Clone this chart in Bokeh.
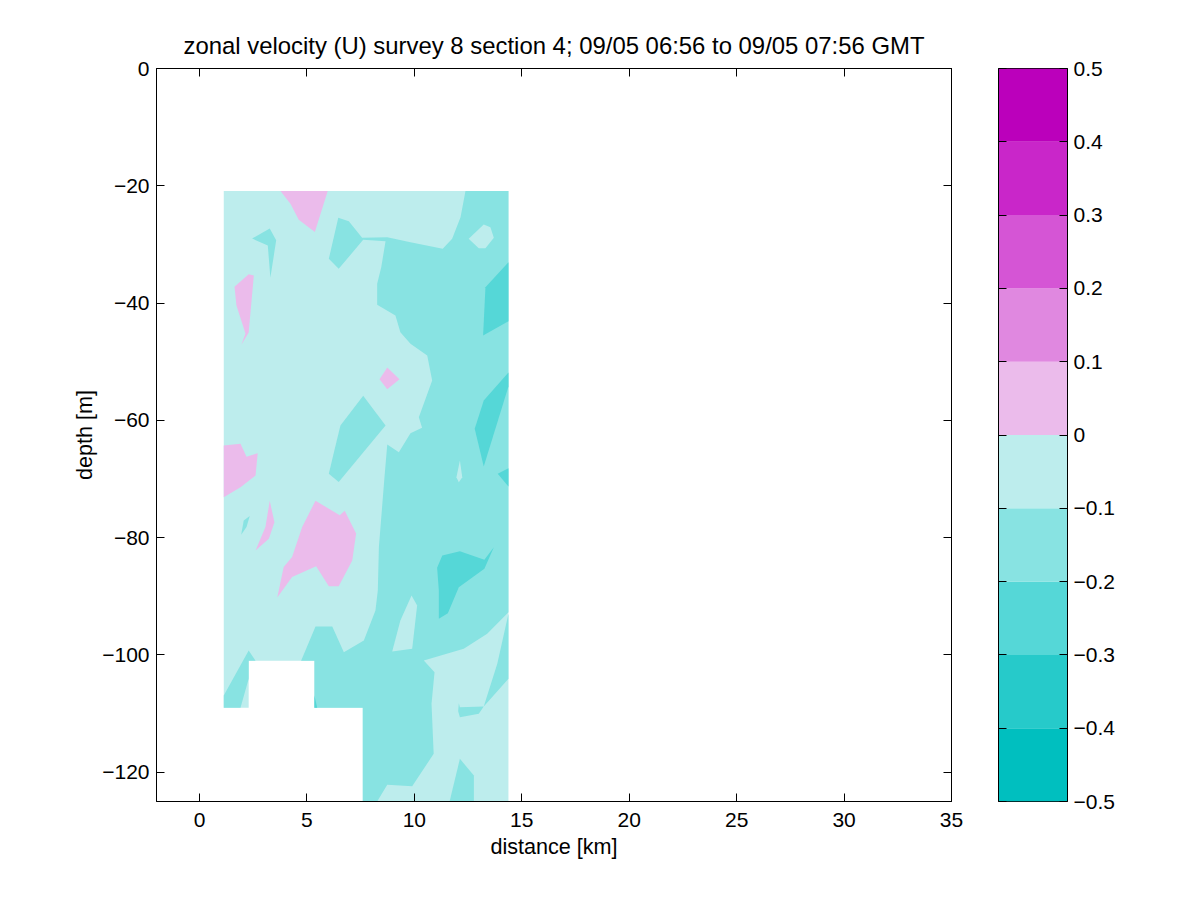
from bokeh.embed import file_html
from bokeh.layouts import row
from bokeh.models import LinearAxis, FixedTicker, Range1d
from bokeh.plotting import figure
from bokeh.resources import INLINE

TITLE = "zonal velocity (U) survey 8 section 4; 09/05 06:56 to 09/05 07:56 GMT"
X_LABEL = "distance [km]"
Y_LABEL = "depth [m]"
X_TICKS = [0, 5, 10, 15, 20, 25, 30, 35]
Y_TICKS = [0, -20, -40, -60, -80, -100, -120]
CB_TICKS = [-0.5, -0.4, -0.3, -0.2, -0.1, 0, 0.1, 0.2, 0.3, 0.4, 0.5]
CB_LABELS = ["\u22120.5", "\u22120.4", "\u22120.3", "\u22120.2", "\u22120.1", "0", "0.1", "0.2", "0.3", "0.4", "0.5"]
LEVEL_COLORS = ["#00BFBF", "#26CACA", "#55D7D7", "#88E3E2", "#BDEDED",
                "#EBBBEB", "#E088E0", "#D555D5", "#C926C9", "#BB00BB"]

# Contour bands, as (distance km, depth m) outlines, one list per band.
BAND_0_TO_NEG01 = [
    [(1.13, -20.9), (14.38, -20.9), (14.38, -125), (7.60, -125), (7.60, -109), (5.35, -109),
     (5.35, -101), (2.29, -101), (2.29, -109), (1.13, -109)],
]
BAND_NEG01_TO_NEG02 = [
    [(12.38, -20.9), (12.15, -25.36), (11.76, -29.04), (11.32, -30.75), (9.82, -29.62), (8.74, -28.77),
     (7.57, -28.87), (6.95, -26.04), (6.46, -25.46), (6.02, -32.45), (6.48, -34.16), (7.62, -29.21),
     (8.66, -29.45), (8.46, -33.88), (8.27, -36.72), (8.27, -40.30), (9.12, -42.12), (9.35, -44.97),
     (9.82, -46.95), (10.60, -48.94), (10.83, -53.21), (10.21, -59.46), (10.36, -61.27), (9.82, -62.19),
     (9.28, -65.43), (8.74, -64.12), (8.61, -69.70), (8.35, -81.63), (8.30, -89.02), (8.19, -92.43),
     (7.65, -97.54), (6.72, -99.54), (6.18, -95.16), (5.40, -95.16), (4.73, -101), (5.35, -101),
     (5.35, -109), (7.60, -109), (7.60, -125), (8.27, -125), (8.74, -122.15), (9.90, -122.39),
     (10.90, -116.87), (10.80, -108.34), (10.94, -102.95), (10.44, -100.95), (12.30, -98.96),
     (13.39, -96.40), (14.38, -92.72), (14.38, -20.9)],
    [(7.62, -55.8), (8.66, -60.9), (6.48, -70.5), (6.02, -69.1), (6.28, -65.1), (6.56, -60.9)],
    [(2.45, -29.0), (3.27, -27.3), (3.57, -29.3), (3.30, -35.7), (3.18, -30.2)],
    [(2.34, -76.3), (2.19, -78.2), (1.94, -79.5), (2.06, -77.1)],
    [(1.13, -106.92), (2.29, -99.25), (2.61, -101), (2.29, -101), (2.29, -104.08), (1.91, -109), (1.13, -109)],
]
HOLES_0_TO_NEG01 = [
    [(12.53, -29.04), (13.23, -26.60), (13.54, -27.06), (13.70, -28.87), (13.31, -30.64), (13.0, -30.64)],
    [(12.12, -66.85), (12.23, -69.70), (12.07, -70.55), (11.96, -69.70)],
    [(9.87, -89.87), (10.13, -91.58), (9.90, -98.96), (8.97, -99.42), (9.35, -94.13)],
]
BAND_NEG01_TO_NEG02_LOWER = [
    [(14.38, -92.99), (13.86, -101.52), (13.23, -108.8), (14.38, -104.08)],
    [(12.07, -108.24), (12.12, -108.92), (13.23, -108.8), (13.0, -110.04), (12.12, -110.62), (12.04, -109.60)],
    [(12.12, -117.72), (12.77, -120.57), (12.77, -125), (11.64, -125)],
]
BAND_NEG02_TO_NEG03 = [
    [(14.38, -33.03), (13.31, -37.29), (13.20, -45.53), (14.38, -43.09)],
    [(14.38, -51.84), (13.23, -56.62), (12.81, -61.44), (13.23, -67.87), (14.38, -54.23)],
    [(13.88, -69.12), (14.38, -68.16), (14.38, -71.28)],
    [(13.70, -81.63), (13.26, -85.32), (12.07, -88.45), (11.56, -92.89), (11.14, -93.84), (11.14, -89.02),
     (11.06, -85.15), (11.30, -83.05), (12.12, -82.32), (13.26, -83.78)],
    [(5.35, -106.92), (5.48, -109), (5.35, -109)],
]
BAND_0_TO_01 = [
    [(3.77, -20.9), (5.97, -20.9), (5.37, -27.9), (4.62, -25.8), (4.24, -23.1)],
    [(1.63, -37.2), (2.29, -35.1), (2.53, -35.3), (2.29, -45.0), (1.95, -47.1), (2.14, -45.2), (1.72, -40.4)],
    [(8.74, -51.0), (9.31, -53.0), (8.74, -54.7), (8.38, -53.0)],
    [(1.13, -64.3), (1.91, -64.0), (2.19, -66.2), (2.71, -65.6), (2.61, -69.4), (1.91, -71.4), (1.13, -73.1)],
    [(3.27, -73.7), (3.49, -77.4), (3.23, -80.2), (2.61, -82.2), (3.07, -78.2)],
    [(5.40, -73.7), (6.53, -76.2), (6.76, -75.4), (7.29, -79.3), (7.11, -83.9), (6.48, -88.3), (6.02, -88.3),
     (5.43, -84.9), (4.31, -86.7), (3.62, -90.2), (3.92, -85.0), (4.31, -83.3), (4.78, -78.2)],
]

FONT = "Liberation Sans"
TICK_SIZE = "21px"
LABEL_SIZE = "21.6px"
TITLE_SIZE = "23.9px"


def add_band(fig, polygons, color):
    fig.patches([[pt[0] for pt in poly] for poly in polygons],
                [[pt[1] for pt in poly] for poly in polygons],
                fill_color=color, line_color=None)


def style_axis(axis, ticks, labels=None):
    axis.ticker = FixedTicker(ticks=ticks)
    axis.major_tick_in = 8
    axis.major_tick_out = 0
    axis.minor_tick_line_color = None
    axis.axis_line_color = "black"
    axis.major_tick_line_color = "black"
    axis.major_label_text_font = FONT
    axis.major_label_text_font_size = TICK_SIZE
    axis.major_label_text_color = "black"
    axis.major_label_orientation = "horizontal"
    if labels is not None:
        axis.major_label_overrides = labels
    else:
        axis.major_label_text_color = None
        axis.major_label_text_font_size = "0px"
        axis.major_label_standoff = 0


p = figure(width=975, height=885, x_range=Range1d(-2, 35), y_range=Range1d(-125, 0),
           output_backend="svg", toolbar_location=None,
           min_border_left=156, min_border_right=24, min_border_top=68, min_border_bottom=84,
           frame_width=795, frame_height=733, title=TITLE)
p.grid.visible = False
p.outline_line_color = "black"
p.background_fill_color = "white"
p.title.text_font = FONT
p.title.text_font_size = TITLE_SIZE
p.title.text_font_style = "normal"
p.title.text_color = "black"
p.title.align = "center"
p.title.standoff = 20

add_band(p, BAND_0_TO_NEG01, LEVEL_COLORS[4])
add_band(p, BAND_NEG01_TO_NEG02, LEVEL_COLORS[3])
add_band(p, HOLES_0_TO_NEG01, LEVEL_COLORS[4])
add_band(p, BAND_NEG01_TO_NEG02_LOWER, LEVEL_COLORS[3])
add_band(p, BAND_NEG02_TO_NEG03, LEVEL_COLORS[2])
add_band(p, BAND_0_TO_01, LEVEL_COLORS[5])

style_axis(p.xaxis[0], X_TICKS, {t: str(t) for t in X_TICKS})
style_axis(p.yaxis[0], Y_TICKS, {t: (str(t).replace("-", "\u2212")) for t in Y_TICKS})
p.xaxis[0].axis_label = X_LABEL
p.yaxis[0].axis_label = Y_LABEL
for ax in (p.xaxis[0], p.yaxis[0]):
    ax.axis_label_text_font = FONT
    ax.axis_label_text_font_size = LABEL_SIZE
    ax.axis_label_text_font_style = "normal"
    ax.axis_label_text_color = "black"
p.xaxis[0].axis_label_standoff = 4
p.xaxis[0].major_label_standoff = 11
p.yaxis[0].axis_label_standoff = 2
p.yaxis[0].major_label_standoff = 7

top_axis = LinearAxis()
style_axis(top_axis, X_TICKS)
p.add_layout(top_axis, "above")
right_axis = LinearAxis()
style_axis(right_axis, Y_TICKS)
p.add_layout(right_axis, "right")

cb = figure(width=152, height=885, x_range=Range1d(0, 1), y_range=Range1d(-0.5, 0.5),
            output_backend="svg", toolbar_location=None, y_axis_location="right",
            min_border_left=23, min_border_right=60, min_border_top=68, min_border_bottom=84,
            frame_width=69, frame_height=733)
cb.grid.visible = False
cb.xaxis.visible = False
cb.outline_line_color = "black"
cb.quad(left=0, right=1, bottom=CB_TICKS[:-1], top=CB_TICKS[1:],
        fill_color=LEVEL_COLORS, line_color=None)
style_axis(cb.yaxis[0], CB_TICKS, dict(zip(CB_TICKS, CB_LABELS)))
cb.yaxis[0].major_label_standoff = 6
cb_left = LinearAxis()
style_axis(cb_left, CB_TICKS)
cb.add_layout(cb_left, "left")

layout = row(p, cb, spacing=0)
open("out.html", "w").write(file_html(layout, INLINE))
